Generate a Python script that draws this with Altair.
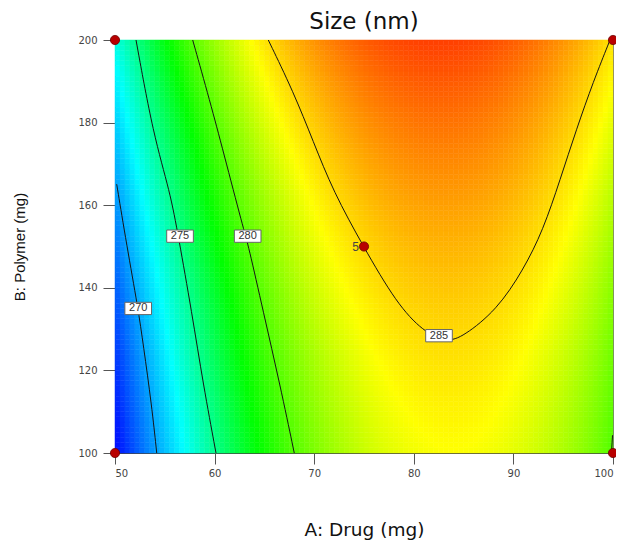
import numpy as np
import pandas as pd
import altair as alt

FONT = "Liberation Sans"
WIDE = "DejaVu Sans"

# Contour points (A: Drug mg, B: Polymer mg)
c270_A = [50.17, 51.17, 52.31, 52.84, 53.68, 54.19]
c270_B = [165.1, 150.4, 135.1, 126.2, 111.6, 100.0]
c275_A = [52.11, 53.85, 55.52, 56.36, 57.70, 58.87, 60.14]
c275_B = [200.0, 177.0, 163.3, 152.5, 134.2, 116.5, 100.0]
c280_A = [57.80, 59.54, 60.87, 62.88, 63.38, 64.89, 66.57, 68.00]
c280_B = [200.0, 185.1, 173.0, 154.4, 150.4, 134.2, 116.5, 100.0]
c285_A = [65.39, 67.90, 69.91, 71.92, 74.93, 78.28, 80.95, 83.30,
          84.97, 88.32, 90.99, 92.99, 94.68, 96.36, 98.02, 99.70]
c285_B = [200.0, 187.5, 175.4, 163.3, 150.0, 136.2, 129.4, 126.8,
          128.2, 134.6, 144.3, 154.0, 166.1, 178.6, 189.9, 200.0]
c280b_A = [99.95, 99.85]
c280b_B = [104.3, 100.0]

contours = [
    ("270", 270, c270_A, c270_B),
    ("275", 275, c275_A, c275_B),
    ("280", 280, c280_A, c280_B),
    ("285", 285, c285_A, c285_B),
    ("280b", 280, c280b_A, c280b_B),
]

# Contour labels
label_A = [52.33, 56.53, 63.32, 82.53]
label_B = [135.0, 152.5, 152.5, 128.4]
label_text = ["270", "275", "280", "285"]

# Design points
dp_A = [50, 50, 100, 100, 75]
dp_B = [100, 200, 100, 200, 150]
dp_rep = ["", "", "", "", "5"]

x_ticks = [50, 60, 70, 80, 90, 100]
y_ticks = [100, 120, 140, 160, 180, 200]

# colour stops (value at which each colour is seen in the picture)
palette = ["#0010ff", "#00ffff", "#00ff00", "#ffff00", "#ff1e00"]
stop_cyan, stop_green, stop_yellow = 272.5, 278.0, 284.0


def terms(A, B):
    x1 = (np.asarray(A, float) - 75) / 25
    x2 = (np.asarray(B, float) - 150) / 50
    return np.column_stack([np.ones_like(x1), x1, x2, x1 * x2, x1 ** 2, x2 ** 2])


# Fit quadratic response surface to the read contour points
allA, allB, allV = [], [], []
for _, lev, A, B in contours:
    allA += A
    allB += B
    allV += [lev] * len(A)
coef, *_ = np.linalg.lstsq(terms(allA, allB), np.array(allV, float), rcond=None)

# Heatmap grid
a_edges = np.linspace(50, 100, 101)
b_edges = np.linspace(100, 200, 81)
ac = (a_edges[:-1] + a_edges[1:]) / 2
bc = (b_edges[:-1] + b_edges[1:]) / 2
AA, BB = np.meshgrid(np.arange(len(ac)), np.arange(len(bc)))
AA = AA.ravel(); BB = BB.ravel()
vals = terms(ac[AA], bc[BB]) @ coef
grid = pd.DataFrame({
    "a": a_edges[AA], "a2": a_edges[AA + 1],
    "b": b_edges[BB], "b2": b_edges[BB + 1],
    "v": np.round(vals, 2),
})
vmin, vmax = float(vals.min()), float(vals.max())
cdomain = [min(vmin, stop_cyan - 1), stop_cyan, stop_green, stop_yellow, max(vmax + 1, stop_yellow + 1)]

xscale = alt.Scale(domain=[50, 100], nice=False, zero=False)
yscale = alt.Scale(domain=[100, 200], nice=False, zero=False)
cscale = alt.Scale(domain=cdomain, range=palette, interpolate="rgb", clamp=True)

xaxis = alt.Axis(values=x_ticks, title="A: Drug (mg)", grid=False, tickSize=11,
                 labelFontSize=10, labelColor="#444", labelFont=WIDE, labelPadding=4,
                 tickColor="#555", domainColor="#444",
                 titleFont=WIDE, titleFontSize=18.5, titleFontWeight="normal",
                 titleColor="#111", titlePadding=42)
yaxis = alt.Axis(values=y_ticks, title="B: Polymer (mg)", grid=False, tickSize=12,
                 labelFontSize=10, labelColor="#444", labelFont=WIDE, labelPadding=6,
                 tickColor="#555", domainColor="#444",
                 titleFont=FONT, titleFontSize=15, titleFontWeight="normal",
                 titleColor="#111", titlePadding=50)

heat = alt.Chart(grid).mark_rect(strokeWidth=0.5).encode(
    x=alt.X("a:Q", scale=xscale, axis=xaxis),
    x2="a2:Q",
    y=alt.Y("b:Q", scale=yscale, axis=yaxis),
    y2="b2:Q",
    color=alt.Color("v:Q", scale=cscale, legend=None),
    stroke=alt.Stroke("v:Q", scale=cscale, legend=None),
)

rows = []
for name, lev, A, B in contours:
    for i, (a, b) in enumerate(zip(A, B)):
        rows.append({"name": name, "level": lev, "A": a, "B": b, "i": i})
cdf = pd.DataFrame(rows)

lines = alt.Chart(cdf).mark_line(color="#151515", strokeWidth=1, interpolate="basis").encode(
    x=alt.X("A:Q", scale=xscale),
    y=alt.Y("B:Q", scale=yscale),
    detail="name:N",
    order="i:Q",
)

ldf = pd.DataFrame({"A": label_A, "B": label_B, "t": label_text})
boxes = alt.Chart(ldf).mark_point(
    shape="M-1.3,-0.6L1.3,-0.6L1.3,0.6L-1.3,0.6Z", size=420, filled=True,
    fill="white", stroke="#666", strokeWidth=1, opacity=1,
).encode(x=alt.X("A:Q", scale=xscale), y=alt.Y("B:Q", scale=yscale))
texts = alt.Chart(ldf).mark_text(fontSize=11, font=FONT, color="#333", baseline="middle").encode(
    x=alt.X("A:Q", scale=xscale), y=alt.Y("B:Q", scale=yscale), text="t:N"
)

ddf = pd.DataFrame({"A": dp_A, "B": dp_B, "r": dp_rep})
dots = alt.Chart(ddf).mark_point(filled=True, size=85, color="#b80000", stroke="#6e0000",
                                 strokeWidth=0.8, opacity=1, clip=False).encode(
    x=alt.X("A:Q", scale=xscale), y=alt.Y("B:Q", scale=yscale)
)
reps = alt.Chart(ddf).mark_text(fontSize=12, font=FONT, color="#444", align="right",
                                dx=-5, baseline="middle").encode(
    x=alt.X("A:Q", scale=xscale), y=alt.Y("B:Q", scale=yscale), text="r:N"
)

chart = alt.layer(heat, lines, boxes, texts, dots, reps).properties(
    width=498, height=413,
    autosize=alt.AutoSizeParams(type="none"),
    padding={"left": 107, "top": 32, "right": 3, "bottom": 89},
    title=alt.TitleParams("Size (nm)", font=WIDE, fontSize=23, fontWeight="normal",
                          color="#111", anchor="middle", frame="group", offset=0),
).configure_view(stroke="#777", strokeWidth=1)

chart.save("out.html", embed_options={"renderer": "svg", "actions": False})
